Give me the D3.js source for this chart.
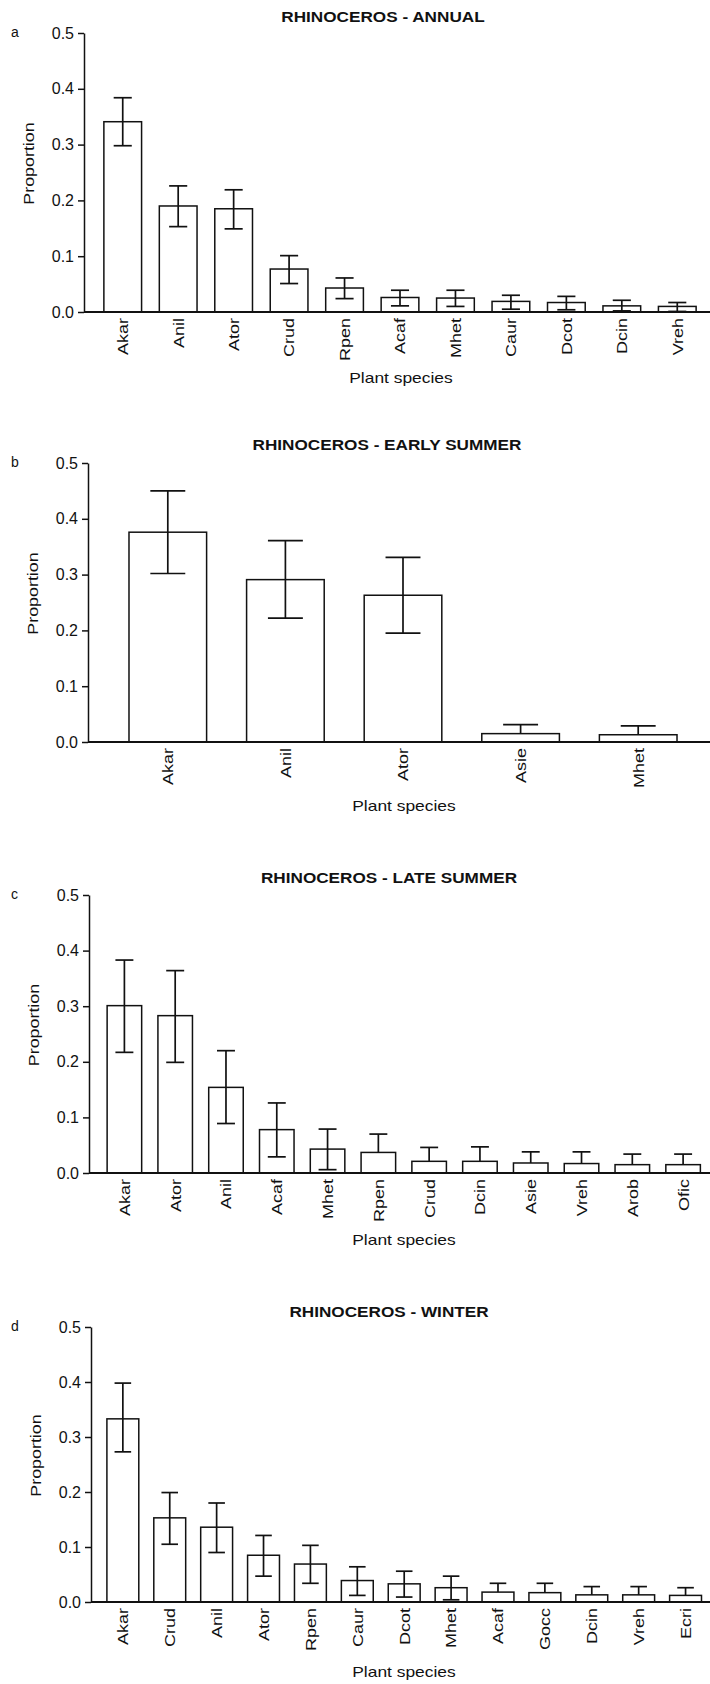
<!DOCTYPE html>
<html>
<head>
<meta charset="utf-8">
<script src="https://cdn.jsdelivr.net/npm/d3@7"></script>
<style>
  body { margin: 0; background: #fff; }
  text { font-family: "Liberation Sans", Arial, sans-serif; fill: #111; }
</style>
</head>
<body>
<svg width="710" height="1684"></svg>
<script>
// values (proportion of diet)
let annualSpecies = ["Akar", "Anil", "Ator", "Crud", "Rpen", "Acaf", "Mhet", "Caur", "Dcot", "Dcin", "Vreh"];
let annualMean  = [0.341, 0.190, 0.185, 0.077, 0.043, 0.026, 0.025, 0.019, 0.017, 0.011, 0.010];
let annualUpper = [0.384, 0.226, 0.219, 0.101, 0.061, 0.039, 0.039, 0.030, 0.028, 0.021, 0.017];
let annualLower = [0.298, 0.153, 0.149, 0.051, 0.024, 0.011, 0.010, 0.005, 0.004, 0.002, 0.001];

let earlySpecies = ["Akar", "Anil", "Ator", "Asie", "Mhet"];
let earlyMean  = [0.376, 0.291, 0.263, 0.015, 0.013];
let earlyUpper = [0.450, 0.361, 0.331, 0.031, 0.029];
let earlyLower = [0.302, 0.222, 0.195, null, null];

let lateSpecies = ["Akar", "Ator", "Anil", "Acaf", "Mhet", "Rpen", "Crud", "Dcin", "Asie", "Vreh", "Arob", "Ofic"];
let lateMean  = [0.301, 0.283, 0.154, 0.078, 0.043, 0.037, 0.021, 0.021, 0.018, 0.017, 0.015, 0.015];
let lateUpper = [0.383, 0.364, 0.220, 0.126, 0.079, 0.070, 0.046, 0.047, 0.038, 0.038, 0.034, 0.034];
let lateLower = [0.217, 0.199, 0.089, 0.029, 0.006, null, null, null, null, null, null, null];

let winterSpecies = ["Akar", "Crud", "Anil", "Ator", "Rpen", "Caur", "Dcot", "Mhet", "Acaf", "Gocc", "Dcin", "Vreh", "Ecri"];
let winterMean  = [0.333, 0.153, 0.136, 0.085, 0.069, 0.039, 0.033, 0.026, 0.018, 0.017, 0.013, 0.013, 0.012];
let winterUpper = [0.398, 0.199, 0.180, 0.121, 0.103, 0.064, 0.056, 0.047, 0.034, 0.034, 0.028, 0.028, 0.026];
let winterLower = [0.273, 0.105, 0.090, 0.047, 0.034, 0.012, 0.009, 0.004, null, null, null, null, null];

let titles = ["RHINOCEROS - ANNUAL", "RHINOCEROS - EARLY SUMMER", "RHINOCEROS - LATE SUMMER", "RHINOCEROS - WINTER"];
let letters = ["a", "b", "c", "d"];
let yTicks = [0, 0.1, 0.2, 0.3, 0.4, 0.5];

let panels = [
    {species: annualSpecies, mean: annualMean, upper: annualUpper, lower: annualLower},
    {species: earlySpecies, mean: earlyMean, upper: earlyUpper, lower: earlyLower},
    {species: lateSpecies, mean: lateMean, upper: lateUpper, lower: lateLower},
    {species: winterSpecies, mean: winterMean, upper: winterUpper, lower: winterLower}
];

// page layout of the four stacked plots
let layout = [
    {axisX: 84, top: 33,   base: 312,  band: [95, 705],    pad: 0.32, cap: 0.48, titleX: 383, titleY: 22,   xTitleX: 401, xTitleY: 383},
    {axisX: 88, top: 463,  base: 742,  band: [109, 697],   pad: 0.34, cap: 0.45, titleX: 387, titleY: 450,  xTitleX: 404, xTitleY: 811},
    {axisX: 89, top: 895,  base: 1173, band: [99, 708.5],  pad: 0.32, cap: 0.52, titleX: 389, titleY: 883,  xTitleX: 404, xTitleY: 1245},
    {axisX: 91, top: 1327, base: 1602, band: [99.4, 709],  pad: 0.32, cap: 0.52, titleX: 389, titleY: 1317, xTitleX: 404, xTitleY: 1677}
];

let svg = d3.select("svg"),
    width = +svg.attr("width");

// the scanned figure uses a wide face: widen glyphs a little
const stretch = (sel, k) => {
    sel.each(function() {
        let w = this.getComputedTextLength();
        this.setAttribute("textLength", w * k);
        this.setAttribute("lengthAdjust", "spacingAndGlyphs");
    });
};

panels.forEach((p, i) => {
    let L = layout[i];
    let g = svg.append("g");

    let xScale = d3.scaleBand()
        .domain(p.species)
        .range(L.band)
        .paddingInner(L.pad)
        .paddingOuter(L.pad / 2);
    let yScale = d3.scaleLinear()
        .domain([0, 0.5])
        .range([L.base, L.top]);

    let rows = p.species.map((s, j) => ({
        species: s, mean: p.mean[j], upper: p.upper[j], lower: p.lower[j]
    }));

    // bars
    g.selectAll("rect")
        .data(rows)
        .join("rect")
        .attr("x", d => xScale(d.species))
        .attr("y", d => yScale(d.mean))
        .attr("width", xScale.bandwidth())
        .attr("height", d => yScale(0) - yScale(d.mean))
        .attr("fill", "#fff")
        .attr("stroke", "#111")
        .attr("stroke-width", 1.5);

    // error bars
    let capW = xScale.bandwidth() * L.cap;
    let mid = d => xScale(d.species) + xScale.bandwidth() / 2;
    let err = g.append("g")
        .attr("stroke", "#111")
        .attr("stroke-width", 1.7);
    err.selectAll("line.stem")
        .data(rows)
        .join("line")
        .attr("class", "stem")
        .attr("x1", mid)
        .attr("x2", mid)
        .attr("y1", d => yScale(d.upper))
        .attr("y2", d => yScale(d.lower === null ? d.mean : d.lower));
    err.selectAll("line.capUp")
        .data(rows)
        .join("line")
        .attr("class", "capUp")
        .attr("x1", d => mid(d) - capW / 2)
        .attr("x2", d => mid(d) + capW / 2)
        .attr("y1", d => yScale(d.upper))
        .attr("y2", d => yScale(d.upper));
    err.selectAll("line.capLow")
        .data(rows.filter(d => d.lower !== null))
        .join("line")
        .attr("class", "capLow")
        .attr("x1", d => mid(d) - capW / 2)
        .attr("x2", d => mid(d) + capW / 2)
        .attr("y1", d => yScale(d.lower))
        .attr("y2", d => yScale(d.lower));

    // y axis
    let yAxis = g.append("g")
        .attr("transform", "translate(" + L.axisX + ",0)")
        .call(d3.axisLeft(yScale)
            .tickValues(yTicks)
            .tickFormat(d3.format(".1f"))
            .tickSize(6)
            .tickPadding(4)
            .tickSizeOuter(0));
    yAxis.selectAll("path, line")
        .attr("stroke", "#111")
        .attr("stroke-width", 1.5);
    yAxis.selectAll("text")
        .attr("font-size", "16px");

    // x axis: species names, rotated
    let xAxis = g.append("g")
        .attr("transform", "translate(0," + L.base + ")")
        .call(d3.axisBottom(xScale).tickSize(0).tickPadding(0));
    xAxis.select(".domain").remove();
    xAxis.selectAll("text")
        .attr("font-size", "15px")
        .attr("transform", "rotate(-90)")
        .attr("x", -6)
        .attr("y", 0)
        .attr("dy", "0.36em")
        .style("text-anchor", "end")
        .call(stretch, 1.2);

    g.append("line")
        .attr("x1", L.axisX)
        .attr("x2", width)
        .attr("y1", yScale(0))
        .attr("y2", yScale(0))
        .attr("stroke", "#111")
        .attr("stroke-width", 2);

    // title
    g.append("text")
        .attr("x", L.titleX)
        .attr("y", L.titleY)
        .attr("text-anchor", "middle")
        .attr("font-size", "14.3px")
        .attr("font-weight", "bold")
        .text(titles[i])
        .call(stretch, 1.2);

    // panel letter
    g.append("text")
        .attr("x", 11)
        .attr("y", L.top + 4)
        .attr("font-size", "14px")
        .text(letters[i]);

    // axis labels
    g.append("text")
        .attr("transform", "translate(" + (L.axisX - 55) + "," + ((L.top + L.base) / 2 - 9) + ") rotate(-90)")
        .attr("text-anchor", "middle")
        .attr("dy", "0.36em")
        .attr("font-size", "15px")
        .text("Proportion")
        .call(stretch, 1.19);

    g.append("text")
        .attr("x", L.xTitleX)
        .attr("y", L.xTitleY)
        .attr("text-anchor", "middle")
        .attr("font-size", "15px")
        .text("Plant species")
        .call(stretch, 1.16);
});
</script>
</body>
</html>
